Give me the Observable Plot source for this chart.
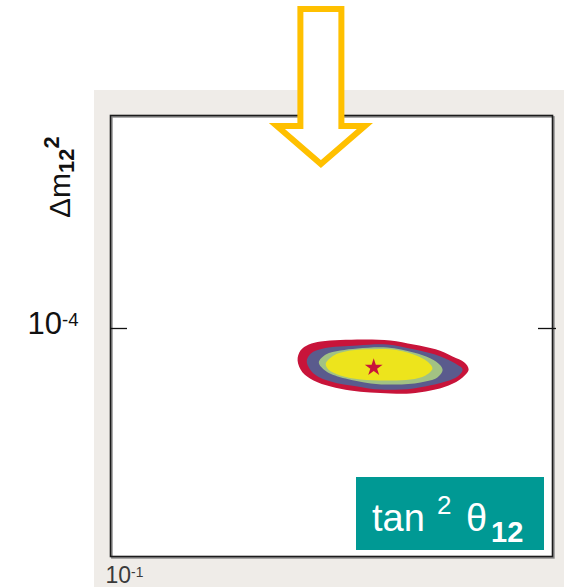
<!DOCTYPE html>
<html>
<head>
<meta charset="utf-8">
<script src="https://cdn.jsdelivr.net/npm/d3@7"></script>
<script src="https://cdn.jsdelivr.net/npm/@observablehq/plot@0.6"></script>
<style>
  html, body { margin: 0; padding: 0; background: #fff; }
  #chart { position: relative; width: 564px; height: 587px; overflow: hidden; }
  #panel { position: absolute; left: 94px; top: 90px; right: 0; bottom: 0; background: #efece8; }
  #chart svg { position: absolute; left: 0; top: 0; }
</style>
</head>
<body>
<div id="chart"><div id="panel"></div></div>
<script>
// Allowed region in the (tan²θ12, Δm²12) plane, drawn from the outermost
// confidence level to the innermost one.
const levels = ["99.73%", "99%", "95%", "68.3%"];
const levelColors = ["#c8143a", "#5a5b8d", "#a2c283", "#ede41c"];

const tan2_9973 = [0.265, 0.269, 0.281, 0.299, 0.331, 0.378, 0.430, 0.485, 0.544, 0.594, 0.632, 0.646, 0.626, 0.582, 0.530, 0.477, 0.430, 0.387, 0.349, 0.315, 0.288, 0.272];
const dm2_9973  = [8.28e-5, 8.78e-5, 9.10e-5, 9.26e-5, 9.34e-5, 9.37e-5, 9.32e-5, 9.10e-5, 8.84e-5, 8.48e-5, 8.18e-5, 7.85e-5, 7.49e-5, 7.14e-5, 6.93e-5, 6.81e-5, 6.81e-5, 6.85e-5, 6.93e-5, 7.10e-5, 7.36e-5, 7.71e-5];

const tan2_99 = [0.278, 0.284, 0.303, 0.362, 0.423, 0.485, 0.558, 0.603, 0.626, 0.610, 0.573, 0.485, 0.408, 0.362, 0.315, 0.288];
const dm2_99  = [8.23e-5, 8.63e-5, 8.89e-5, 9.05e-5, 9.10e-5, 8.84e-5, 8.48e-5, 8.13e-5, 7.85e-5, 7.53e-5, 7.31e-5, 7.02e-5, 6.97e-5, 7.10e-5, 7.31e-5, 7.67e-5];

const tan2_95 = [0.296, 0.307, 0.331, 0.362, 0.423, 0.485, 0.530, 0.558, 0.564, 0.549, 0.503, 0.441, 0.388, 0.340, 0.308];
const dm2_95  = [8.18e-5, 8.58e-5, 8.78e-5, 8.89e-5, 8.94e-5, 8.68e-5, 8.38e-5, 8.04e-5, 7.80e-5, 7.49e-5, 7.27e-5, 7.18e-5, 7.23e-5, 7.44e-5, 7.76e-5];

const tan2_68 = [0.307, 0.320, 0.340, 0.378, 0.430, 0.485, 0.521, 0.535, 0.516, 0.477, 0.419, 0.368, 0.331, 0.311];
const dm2_68  = [8.13e-5, 8.53e-5, 8.73e-5, 8.84e-5, 8.84e-5, 8.58e-5, 8.23e-5, 7.90e-5, 7.58e-5, 7.40e-5, 7.36e-5, 7.40e-5, 7.58e-5, 7.85e-5];

// Best-fit point
const bestTan2 = 0.394;
const bestDm2 = 7.94e-5;

// Axis ticks and the marker arrow position
const xTicks = [0.1];
const yTicks = [1e-4];
const arrowTan2 = 0.3;

const FONT = "'Liberation Sans', Arial, Helvetica, sans-serif";

const rings = [
  {level: levels[0], tan2: tan2_9973, dm2: dm2_9973},
  {level: levels[1], tan2: tan2_99, dm2: dm2_99},
  {level: levels[2], tan2: tan2_95, dm2: dm2_95},
  {level: levels[3], tan2: tan2_68, dm2: dm2_68}
];
const rows = rings.flatMap(r => r.tan2.map((t, i) => ({level: r.level, tan2: t, dm2: r.dm2[i]})));

const fmtPow = d => `10^${Math.round(Math.log10(d))}`;

const plot = Plot.plot({
  width: 564,
  height: 587,
  marginLeft: 110,
  marginRight: 12,
  marginTop: 115,
  marginBottom: 31,
  style: {background: "transparent", fontFamily: FONT, overflow: "visible"},
  x: {type: "log", domain: [0.1, 1]},
  y: {type: "log", domain: [2.6e-5, 3.52e-4]},
  marks: [
    Plot.frame({fill: "white", stroke: "none"}),
    ...rings.map((r, i) => Plot.line(rows.filter(d => d.level === r.level), {
      x: "tan2", y: "dm2", curve: "catmull-rom-closed",
      fill: levelColors[i], stroke: "none"
    })),
    Plot.dot([{tan2: bestTan2, dm2: bestDm2}], {
      x: "tan2", y: "dm2", symbol: "star", r: 5.6, fill: levelColors[0], stroke: "none"
    }),
    Plot.frame({stroke: "#8a8a8a", strokeWidth: 1.6, dx: 1.4, dy: 1.4}),
    Plot.frame({stroke: "#1b1b1b", strokeWidth: 1.6}),
    Plot.axisY({anchor: "left", ticks: yTicks, tickSize: 17, dx: 17, tickFormat: () => "", label: null, stroke: "#111", strokeWidth: 1.3}),
    Plot.axisY({anchor: "right", ticks: yTicks, tickSize: 18, dx: -15, tickFormat: () => "", label: null, stroke: "#111", strokeWidth: 1.3}),
    Plot.axisY({anchor: "left", ticks: yTicks, tickSize: 0, tickPadding: 32, tickFormat: fmtPow, fontSize: 31, fill: "#111", label: null, dy: -4}),
    Plot.axisX({anchor: "bottom", ticks: xTicks, tickSize: 0, tickPadding: 10, tickFormat: fmtPow, fontSize: 23, textAnchor: "start", dx: -5, fill: "#3a3a3a", label: null})
  ]
});

document.getElementById("chart").appendChild(plot);

const svg = d3.select(plot);

// Render "10^n" tick labels with a raised exponent
svg.selectAll("text").each(function () {
  const m = /^10\^(-?\d+)$/.exec(this.textContent);
  if (!m) return;
  const t = d3.select(this);
  t.text("10");
  t.append("tspan").attr("dy", "-0.45em").style("font-size", "60%").text(m[1]);
});

const [x0, x1] = plot.scale("x").range;
const [y0, y1] = plot.scale("y").range; // bottom, top

// Vertical axis title: Δm²₁₂
const yTitle = svg.append("text")
  .attr("transform", `translate(${x0 - 40},${y1 + 103}) rotate(-90)`)
  .attr("text-anchor", "start")
  .attr("font-family", FONT)
  .attr("font-size", 30)
  .attr("fill", "#111");
yTitle.append("tspan").text("Δm");
yTitle.append("tspan").attr("dy", 4).attr("font-size", 22).attr("font-weight", "bold").text("12");
yTitle.append("tspan").attr("dy", -15).attr("font-size", 22).attr("font-weight", "bold").text("2");

// Horizontal axis title in a teal box at the lower right of the frame
const box = svg.append("g").attr("transform", `translate(${x1 - 196},${y0 - 79})`);
box.append("rect").attr("width", 188).attr("height", 73).attr("fill", "#009994");
const boxText = box.append("text")
  .attr("text-anchor", "start")
  .attr("font-family", FONT)
  .attr("font-size", 38)
  .attr("fill", "#fff")
  .attr("y", 54);
boxText.append("tspan").attr("x", 16).text("tan");
boxText.append("tspan").attr("x", 81).attr("dy", -17).attr("font-size", 26).text("2");
boxText.append("tspan").attr("x", 110).attr("dy", 17).text("θ");
boxText.append("tspan").attr("x", 135).attr("dy", 11).attr("font-size", 29).attr("font-weight", "bold").text("12");

// Hollow block arrow pointing down at the marked tan²θ12 value
const ax = plot.scale("x").apply(arrowTan2);
const arrowShape = [[-20.5, 9], [20.5, 9], [20.5, 126], [44, 126], [0, 164], [-44, 126], [-20.5, 126]];
svg.append("path")
  .attr("d", "M" + arrowShape.map(([dx, y]) => [ax + dx, y].join(",")).join("L") + "Z")
  .attr("fill", "#fff")
  .attr("stroke", "#ffc000")
  .attr("stroke-width", 6)
  .attr("stroke-linejoin", "miter");
</script>
</body>
</html>
